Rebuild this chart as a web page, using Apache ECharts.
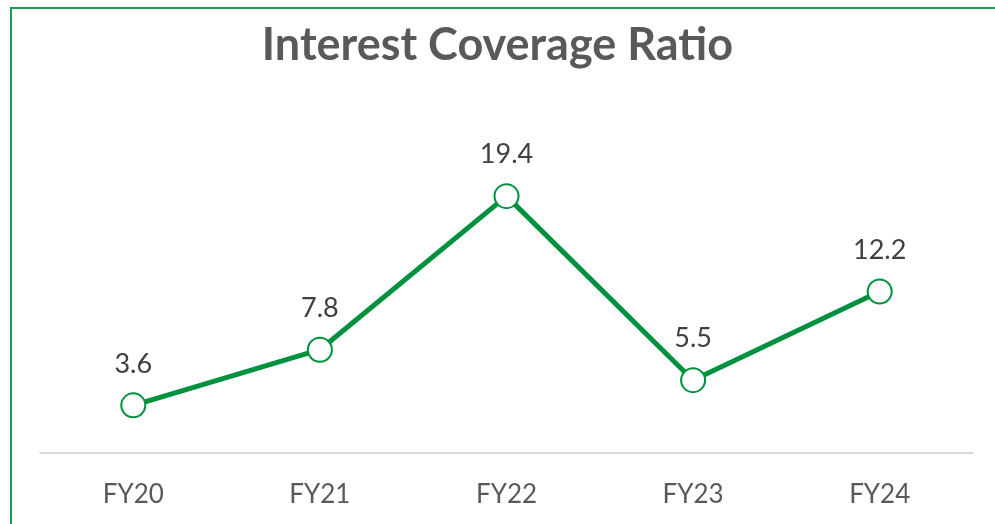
<!DOCTYPE html>
<html>
<head>
<meta charset="utf-8">
<script src="https://cdn.jsdelivr.net/npm/echarts@6/dist/echarts.min.js"></script>
<style>
  html, body { margin: 0; padding: 0; background: #fff; }
  #chart { width: 995px; height: 524px; }
</style>
</head>
<body>
<div id="chart"></div>
<script>
var years = ["FY20", "FY21", "FY22", "FY23", "FY24"];
var coverage = [3.6, 7.8, 19.4, 5.5, 12.2];

var chartDom = document.getElementById("chart");
var myChart = echarts.init(chartDom);
var green = "#00913f";

var option = {
  animation: false,
  title: {
    text: "Interest Coverage Ratio",
    left: "center",
    top: 18,
    textStyle: {
      fontFamily: "Lato",
      fontSize: 45,
      fontWeight: "bold",
      color: "#595959",
    },
  },
  graphic: [
    {
      type: "rect",
      shape: { x: 11, y: 8, width: 1100, height: 700 },
      style: { fill: null, stroke: "#1a9c4a", lineWidth: 2 },
      silent: true,
    },
  ],
  grid: { left: 40, right: 22, top: 122, bottom: 71 },
  xAxis: {
    type: "category",
    data: years,
    boundaryGap: true,
    axisLine: { lineStyle: { color: "#d9d9d9", width: 2 } },
    axisTick: { show: false },
    axisLabel: {
      margin: 29,
      fontFamily: "Lato",
      fontSize: 26,
      color: "#595959",
    },
  },
  yAxis: {
    type: "value",
    min: 0,
    max: 25,
    show: false,
    splitLine: { show: false },
  },
  series: [
    {
      type: "line",
      data: coverage,
      symbol: "circle",
      symbolSize: 24,
      lineStyle: { color: green, width: 5 },
      itemStyle: { color: "#fff", borderColor: green, borderWidth: 2 },
      label: {
        show: true,
        position: "top",
        distance: 15,
        fontFamily: "Lato",
        fontSize: 27,
        color: "#404040",
        formatter: function (p) {
          return p.value.toFixed(1);
        },
      },
    },
  ],
};
option && myChart.setOption(option);
</script>
</body>
</html>
